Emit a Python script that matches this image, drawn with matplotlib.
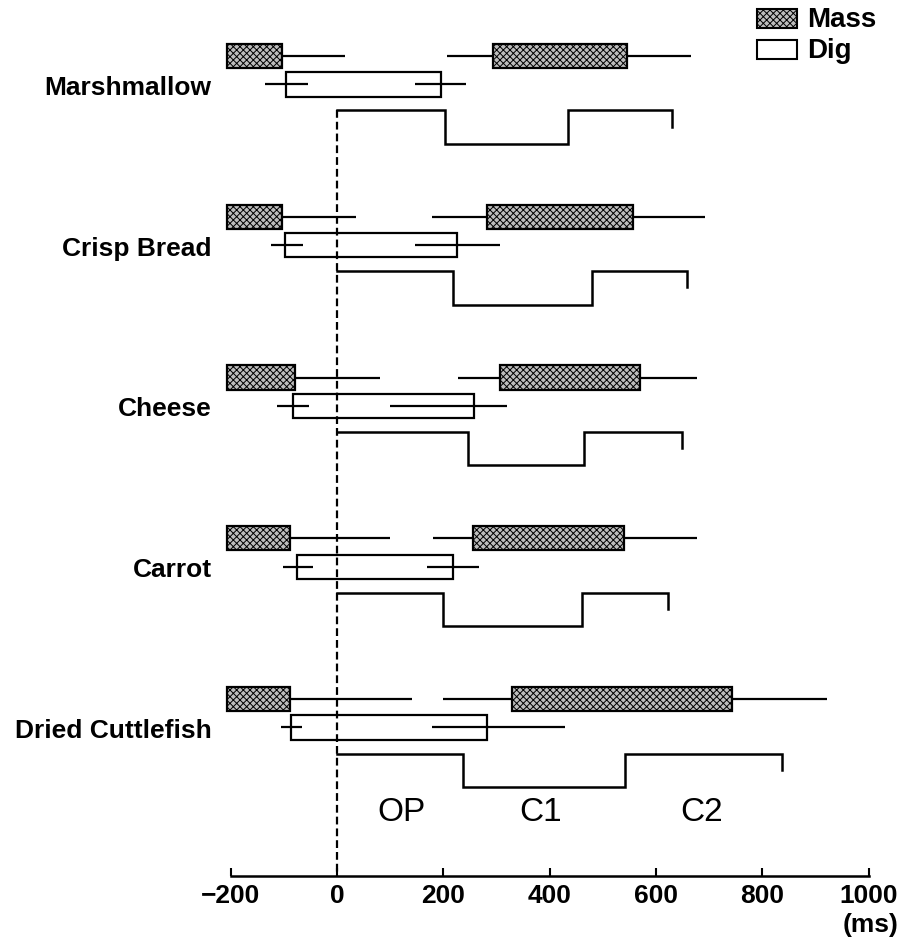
import matplotlib
matplotlib.use("Agg")
import matplotlib.pyplot as plt
from matplotlib.patches import Rectangle
from matplotlib.transforms import Affine2D

plt.rcParams['font.family'] = ['Liberation Sans', 'DejaVu Sans']
plt.rcParams['hatch.linewidth'] = 0.7

# ---- data (ms) ----
foods = ["Marshmallow", "Crisp Bread", "Cheese", "Carrot", "Dried Cuttlefish"]

# masseter burst from the previous cycle: offset and its whisker end
mass_prev_off = [-103, -103, -79, -88, -88]
mass_prev_whisk = [15, 36, 81, 100, 141]

# masseter burst: onset / offset with whisker ranges
mass_on = [294, 282, 307, 256, 329]
mass_on_lo = [207, 179, 228, 181, 199]
mass_off = [546, 557, 570, 540, 743]
mass_off_hi = [666, 692, 677, 677, 922]

# digastric burst: onset / offset with whisker ranges
dig_on = [-96, -98, -83, -75, -87]
dig_on_lo = [-135, -124, -113, -102, -105]
dig_on_hi = [-55, -64, -53, -45, -65]
dig_off = [196, 226, 258, 218, 282]
dig_off_lo = [147, 147, 100, 169, 179]
dig_off_hi = [243, 307, 320, 267, 429]

# jaw movement phases: OP end, C1 end, C2 end
op_end = [203, 218, 246, 199, 237]
c1_end = [435, 480, 465, 461, 542]
c2_end = [630, 659, 649, 623, 837]

phase_names = ["OP", "C1", "C2"]
phase_label_x = [122, 383, 686]

xticks = [-200, 0, 200, 400, 600, 800, 1000]
legend_names = ["Mass", "Dig"]

# ---- layout (row units) ----
DIG_DY = 0.177
STEP_TOP = 0.339
STEP_BOT = 0.547
END_TICK = 0.10
BOX_H = 0.15

W, H = 911, 945
fig = plt.figure(figsize=(W / 100, H / 100), dpi=100)
x0_px, x1_px = 222.7, 908.4
ax = fig.add_axes([x0_px / W, 1 - 877 / H, (x1_px - x0_px) / W, 877 / H])
ax.set_xlim(-215, 1075)
ax.set_ylim(5.101, -0.3546)

MASS_FACE = "#bdbdbd"
mass_style = dict(facecolor=MASS_FACE, edgecolor="black", hatch="xxxxx",
                  linewidth=1.6, zorder=3)
dig_style = dict(facecolor="white", edgecolor="black", linewidth=1.6, zorder=2)
lw = 1.6

for i, name in enumerate(foods):
    y = i
    # masseter, previous burst
    ax.add_patch(Rectangle((-207, y - BOX_H / 2), mass_prev_off[i] + 207, BOX_H,
                           **mass_style))
    ax.plot([mass_prev_off[i], mass_prev_whisk[i]], [y, y], color="black",
            lw=lw, zorder=2, solid_capstyle="butt")
    # masseter, current burst
    ax.add_patch(Rectangle((mass_on[i], y - BOX_H / 2), mass_off[i] - mass_on[i],
                           BOX_H, **mass_style))
    ax.plot([mass_on_lo[i], mass_off_hi[i]], [y, y], color="black", lw=lw,
            zorder=2, solid_capstyle="butt")
    # digastric burst
    yd = y + DIG_DY
    ax.add_patch(Rectangle((dig_on[i], yd - BOX_H / 2), dig_off[i] - dig_on[i],
                           BOX_H, **dig_style))
    ax.plot([dig_on_lo[i], dig_on_hi[i]], [yd, yd], color="black", lw=lw,
            zorder=4, solid_capstyle="butt")
    ax.plot([dig_off_lo[i], dig_off_hi[i]], [yd, yd], color="black", lw=lw,
            zorder=4, solid_capstyle="butt")
    # jaw movement trace
    yt, yb = y + STEP_TOP, y + STEP_BOT
    xs = [0, op_end[i], op_end[i], c1_end[i], c1_end[i], c2_end[i], c2_end[i]]
    ys = [yt, yt, yb, yb, yt, yt, yt + END_TICK]
    ax.plot(xs, ys, color="black", lw=1.8, zorder=4, solid_joinstyle="miter")

# movement onset reference line
ax.plot([0, 0], [STEP_TOP, 5.101], color="black", lw=1.6,
        linestyle=(0, (3.5, 1.8)), zorder=5, clip_on=False)

# phase names
for nm, px in zip(phase_names, phase_label_x):
    ax.text(px, 4.70, nm, ha="center", va="center", fontsize=24)

# axes styling
for s in ["left", "right", "top"]:
    ax.spines[s].set_visible(False)
ax.spines["bottom"].set_bounds(-200, 1000)
ax.spines["bottom"].set_linewidth(1.8)
ax.set_xticks(xticks)
ax.set_xticklabels([str(t).replace("-", "\u2212") for t in xticks],
                   fontsize=19, fontweight="bold")
ax.tick_params(axis="x", direction="in", length=6, width=1.5, pad=5)
ax.set_yticks([i + DIG_DY for i in range(len(foods))])
ax.set_yticklabels(foods, fontsize=19, fontweight="bold")
ax.tick_params(axis="y", length=0, pad=8)

fig.text(898 / W, 1 - 925 / H, "(ms)", ha="right", va="center", fontsize=19,
         fontweight="bold")

# legend key placed in figure pixel space (origin at top-left)
px_tr = Affine2D().scale(1 / W, -1 / H).translate(0, 1) + fig.transFigure
key_styles = [dict(facecolor=MASS_FACE, edgecolor="black", hatch="xxxxx"),
              dict(facecolor="white", edgecolor="black")]
for k, (nm, st) in enumerate(zip(legend_names, key_styles)):
    top = 10 + 31 * k
    fig.add_artist(Rectangle((757, top), 40, 19, transform=px_tr, linewidth=1.5,
                             **st))
    fig.text(807, top + 10, nm, transform=px_tr, ha="left", va="center",
             fontsize=20, fontweight="bold")

fig.savefig("out.png", dpi=100)
